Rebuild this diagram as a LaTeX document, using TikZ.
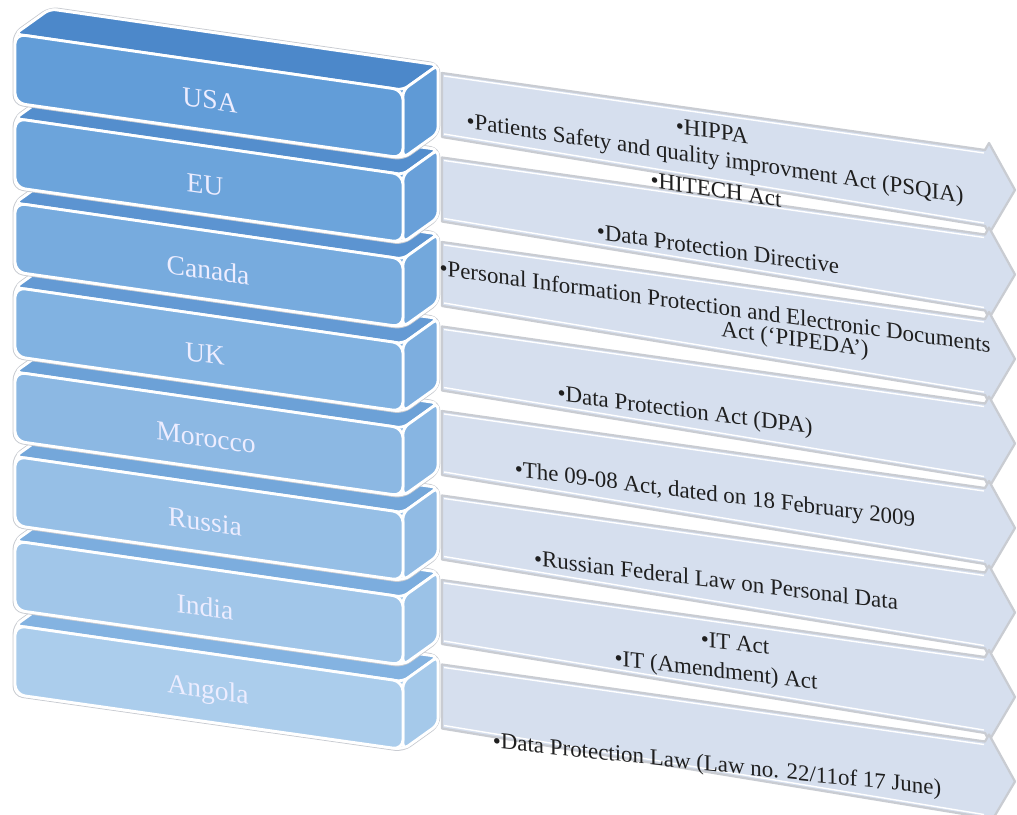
\documentclass[tikz,border=0pt]{standalone}
\usepackage{fontspec}
\setmainfont{Liberation Serif}
\definecolor{frontTop}{HTML}{629DD8}
\definecolor{frontBot}{HTML}{ABCDEC}
\definecolor{faceTop}{HTML}{4C88CA}
\definecolor{faceBot}{HTML}{84B3E1}
\definecolor{arrowFill}{HTML}{D6DFEE}
\definecolor{rimGray}{HTML}{C9CCD2}
\begin{document}
\begin{tikzpicture}[x=0.025cm,y=-0.025cm,
  rim/.style={draw=rimGray,line width=3.4pt,line join=round},
  whiteedge/.style={draw=white,line width=2pt,line join=round},
  arrowbody/.style={fill=arrowFill,draw=rimGray,line width=1.6pt,line join=round},
  country/.style={font=\fontsize{19.6}{22}\selectfont,text=white!93!blue,inner sep=0pt},
  lawtext/.style={font=\fontsize{16.3}{19}\selectfont,text=black!88,inner sep=0pt}]
\useasboundingbox (0,0) rectangle (1017,814);

% ---- arrows carrying the laws ----
\foreach \i in {0,...,7}{
  \pgfmathsetmacro{\dy}{84.5*\i}
  \draw[arrowbody] (442,73+\dy) -- (985,150+\dy) -- (989,143+\dy) -- (1015,190+\dy)
        -- (989,234+\dy) -- (985,226+\dy) -- (442,137+\dy) -- cycle;
  \draw[white,line width=1pt] (444,76+\dy) -- (984,153+\dy);
  \draw[white,line width=1pt] (444,134+\dy) -- (984,223+\dy);
}

% ---- country slabs, drawn bottom to top ----
\foreach \i in {7,6,...,0}{
  \pgfmathsetmacro{\dy}{84.5*\i}
  \pgfmathtruncatemacro{\p}{round(100-100*\i/7)}
  \colorlet{fc}{frontTop!\p!frontBot}
  \colorlet{tc}{faceTop!\p!faceBot}
  % outline of the whole slab
  \draw[rim,rounded corners=2mm] (15,34+\dy) -- (50,9+\dy) -- (438,65+\dy) -- (438,133+\dy)
        -- (403,158+\dy) -- (15,103+\dy) -- cycle;
  \filldraw[fill=fc,whiteedge,rounded corners=2mm] (15,34+\dy) -- (50,9+\dy) -- (438,65+\dy)
        -- (438,133+\dy) -- (403,158+\dy) -- (15,103+\dy) -- cycle;
  % top face
  \filldraw[fill=tc,whiteedge,rounded corners=1.5mm] (15,34+\dy) -- (50,9+\dy) -- (438,65+\dy)
        -- (403,90+\dy) -- cycle;
  % right side face
  \filldraw[fill=fc!85!tc,whiteedge,rounded corners=1.5mm] (403,90+\dy) -- (438,65+\dy)
        -- (438,133+\dy) -- (403,158+\dy) -- cycle;
  % front face
  \filldraw[fill=fc,whiteedge,rounded corners=2.5mm] (15,34+\dy) -- (403,90+\dy)
        -- (403,158+\dy) -- (15,103+\dy) -- cycle;
}

% ---- country names ----
\node[country,yslant=-0.14] (usa)     at (210,100) {USA};
\node[country,yslant=-0.14] (eu)      at (205,185) {EU};
\node[country,yslant=-0.14] (canada)  at (208,270) {Canada};
\node[country,yslant=-0.14] (uk)      at (205,354) {UK};
\node[country,yslant=-0.14] (morocco) at (206,438) {Morocco};
\node[country,yslant=-0.14] (russia)  at (205,522) {Russia};
\node[country,yslant=-0.14] (india)   at (205,607) {India};
\node[country,yslant=-0.14] (angola)  at (208,692) {Angola};

% ---- laws ----
\node[lawtext,yslant=-0.15]  (hippa)   at (712,131) {•HIPPA};
\node[lawtext,yslant=-0.15]  (psqia)   at (715,160) {•Patients Safety and quality improvment Act (PSQIA)};
\node[lawtext,yslant=-0.15]  (hitech)  at (716,190) {•HITECH Act};
\node[lawtext,yslant=-0.145] (dpd)     at (718,249) {•Data Protection Directive};
\node[lawtext,yslant=-0.14]  (pipa)    at (715,306) {•Personal Information Protection and Electronic Documents};
\node[lawtext,yslant=-0.14]  (pipb)    at (795,341) {Act (‘PIPEDA’)};
\node[lawtext,yslant=-0.13]  (dpa)     at (685,412) {•Data Protection Act (DPA)};
\node[lawtext,yslant=-0.125] (act0908) at (715,496) {•The 09-08 Act, dated on 18 February 2009};
\node[lawtext,yslant=-0.12]  (rflpd)   at (716,580) {•Russian Federal Law on Personal Data};
\node[lawtext,yslant=-0.115] (itact)   at (735,643) {•IT Act};
\node[lawtext,yslant=-0.115] (itamend) at (716,672) {•IT (Amendment) Act};
\node[lawtext,yslant=-0.105] (dpl)     at (717,766) {•Data Protection Law (Law no. 22/11of 17 June)};
\end{tikzpicture}
\end{document}
